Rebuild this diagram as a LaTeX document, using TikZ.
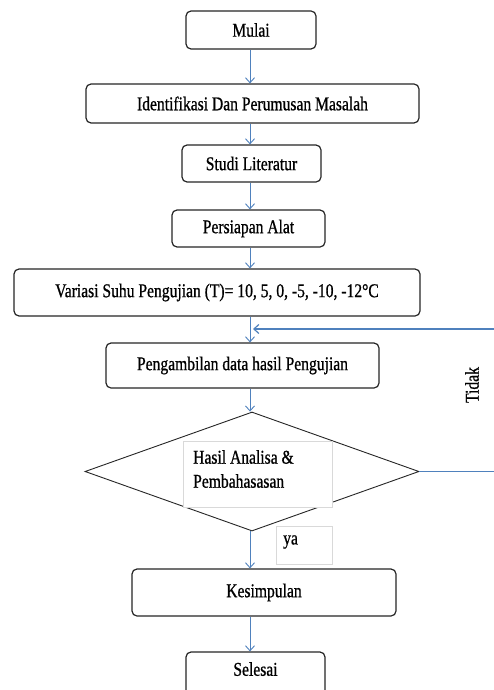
\documentclass[tikz,border=0pt]{standalone}
\usepackage{fontspec}
\setmainfont{Liberation Serif}[FakeStretch=0.8,FakeBold=0.8]
\usetikzlibrary{shapes.geometric,arrows.meta}
\definecolor{arrowblue}{HTML}{4F81BD}
\begin{document}
\begin{tikzpicture}[x=1pt,y=-1pt,
  box/.style={draw=black!85,line width=1.2pt,rounded corners=5pt,fill=white,inner sep=0pt,font=\fontsize{19.5}{22}\selectfont},
  arr/.style={draw=arrowblue,line width=0.9pt,-{Straight Barb[length=5pt,width=9pt]}},
  lbl/.style={draw=black!15,line width=0.6pt,fill=white,inner sep=0pt},
  txt/.style={font=\fontsize{19.5}{24}\selectfont,inner sep=0pt}]
\useasboundingbox (0,0) rectangle (494,690);
\clip (0,0) rectangle (494,690);
\fill[white] (0,0) rectangle (494,690);

\node[box,minimum width=130pt,minimum height=38pt] (mulai) at (251,30) {Mulai};
\node[box,minimum width=333pt,minimum height=39pt] (ident) at (252.5,103.5) {Identifikasi Dan Perumusan Masalah};
\node[box,minimum width=139pt,minimum height=37pt] (studi) at (251.5,163.5) {Studi Literatur};
\node[box,minimum width=153pt,minimum height=37pt] (persiapan) at (248.5,228.5) {Persiapan Alat};
\node[box,minimum width=406pt,minimum height=47pt] (variasi) at (217,292.5) {Variasi Suhu Pengujian (T)= 10, 5, 0, -5, -10, -12°C};
\node[box,minimum width=273pt,minimum height=45pt] (ambil) at (242.5,365.5) {Pengambilan data hasil Pengujian};
\node[diamond,draw=black!85,line width=0.9pt,fill=white,minimum width=334pt,minimum height=119pt,inner sep=0pt] (dec) at (252,471.5) {};
\node[lbl,minimum width=149pt,minimum height=66pt] (dbox) at (257.5,474) {};
\node[txt,anchor=west,align=left] (dtext) at (193,469) {Hasil Analisa \&\\Pembahasasan};
\node[lbl,minimum width=56pt,minimum height=38pt] (yabox) at (304,545) {};
\node[txt,anchor=west] (ya) at (283,542) {ya};
\node[box,minimum width=264pt,minimum height=47pt] (kesimpulan) at (264,592.5) {Kesimpulan};
\node[box,minimum width=139pt,minimum height=48pt,text depth=14pt] (selesai) at (255.5,676) {Selesai};
\node[txt,rotate=90] (tidak) at (472,385) {Tidak};

\coordinate (ax) at (250,0);
\coordinate (rt) at (505,0);
\coordinate (loopend) at (253,329);

\draw[arr] (mulai.south -| ax) -- (ident.north -| ax);
\draw[arr] (ident.south -| ax) -- (studi.north -| ax);
\draw[arr] (studi.south -| ax) -- (persiapan.north -| ax);
\draw[arr] (persiapan.south -| ax) -- (variasi.north -| ax);
\draw[arr] (variasi.south -| ax) -- (ambil.north -| ax);
\draw[arr] (ambil.south -| ax) -- (dec.north -| ax);
\draw[arr] (dec.south -| ax) -- (kesimpulan.north -| ax);
\draw[arr] (kesimpulan.south -| ax) -- (selesai.north -| ax);
\draw[arr,line width=1.2pt] (dec.east) -- (dec.east -| rt) |- (loopend);
\end{tikzpicture}
\end{document}
